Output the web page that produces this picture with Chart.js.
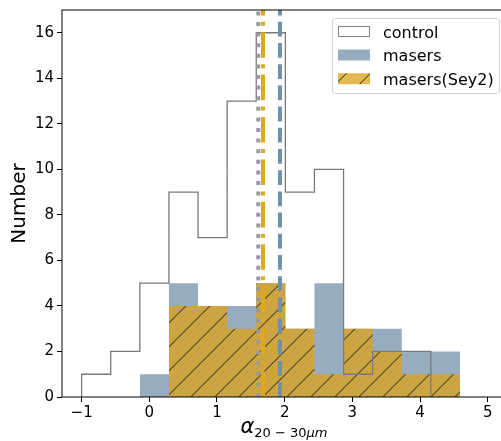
<!DOCTYPE html>
<html>
<head>
<meta charset="utf-8">
<script src="https://cdn.jsdelivr.net/npm/chart.js@4.4.0/dist/chart.umd.min.js"></script>
<style>
    html, body { margin: 0; padding: 0; overflow: hidden; background: #fff; }
    #wrap { width: 510px; height: 441px; }
</style>
</head>
<body>
<div id="wrap"><canvas id="histChart" width="510" height="441"></canvas></div>
<script>
// bin edges shared by the three histograms
const binEdges = [-1.0, -0.57, -0.14, 0.29, 0.72, 1.15, 1.58, 2.01, 2.44, 2.87, 3.30, 3.73, 4.16, 4.59];
const controlCounts = [1, 2, 5, 9, 7, 13, 16, 9, 10, 1, 2, 2, 0];
const maserCounts = [0, 0, 1, 5, 4, 4, 5, 3, 5, 3, 3, 2, 2];
const sey2Counts = [0, 0, 0, 4, 4, 3, 5, 3, 1, 3, 2, 1, 1];

// vertical marker lines
const controlMedian = 1.61;
const sey2Median = 1.68;
const maserMedian = 1.93;

const xTicks = [-1, 0, 1, 2, 3, 4, 5];
const yTicks = [0, 2, 4, 6, 8, 10, 12, 14, 16];
const legendNames = ['control', 'masers', 'masers(Sey2)'];

const FONT = '"DejaVu Sans", "Liberation Sans", sans-serif';
const BLUE = '#98acc0';
const GOLD = '#cca442';
const GOLD_LIGHT = '#e4b84e';

function stepPoints(counts) {
    const first = counts.findIndex(c => c > 0);
    let last = counts.length - 1;
    while (counts[last] === 0) last--;
    const pts = [{ x: binEdges[first], y: 0 }];
    for (let i = first; i <= last; i++) {
        pts.push({ x: binEdges[i], y: counts[i] });
    }
    pts.push({ x: binEdges[last + 1], y: counts[last] });
    pts.push({ x: binEdges[last + 1], y: 0 });
    return pts;
}

function makeHatch(bg) {
    const size = 24;
    const c = document.createElement('canvas');
    c.width = size;
    c.height = size;
    const g = c.getContext('2d');
    g.fillStyle = bg;
    g.fillRect(0, 0, size, size);
    g.strokeStyle = '#1e1e1e';
    g.lineWidth = 1;
    g.beginPath();
    [-size, 0, size].forEach(k => {
        g.moveTo(k, size);
        g.lineTo(k + size, 0);
    });
    g.stroke();
    const p = g.createPattern(c, 'repeat');
    p.setTransform(new DOMMatrix().translate(11.7, 0));
    return p;
}

function vLine(x, color, dash) {
    return {
        data: [{ x: x, y: 0 }, { x: x, y: 17 }],
        showLine: true,
        borderColor: color,
        borderWidth: 4,
        borderDash: dash,
        pointRadius: 0,
        fill: false
    };
}

function fmtTick(v) {
    return v < 0 ? '\u2212' + Math.abs(v) : String(v);
}

function drawXLabel(ctx, centerX, baseY) {
    const parts = [
        { t: '\u03b1', f: 'italic 21px ' + FONT, dy: 0 },
        { t: '20 \u2212 30', f: '13px ' + FONT, dy: 4 },
        { t: '\u03bcm', f: 'italic 13px ' + FONT, dy: 4 }
    ];
    let total = 0;
    parts.forEach(p => {
        ctx.font = p.f;
        p.w = ctx.measureText(p.t).width;
        total += p.w;
    });
    let x = centerX - total / 2;
    ctx.fillStyle = '#000';
    ctx.textAlign = 'left';
    ctx.textBaseline = 'alphabetic';
    parts.forEach(p => {
        ctx.font = p.f;
        ctx.fillText(p.t, x, baseY + p.dy);
        x += p.w;
    });
}

function drawLegend(ctx, legendHatch) {
    const box = { x: 332, y: 18, w: 167, h: 75 };
    ctx.save();
    ctx.beginPath();
    ctx.roundRect(box.x + 0.5, box.y + 0.5, box.w, box.h, 3);
    ctx.fillStyle = 'rgba(255,255,255,0.85)';
    ctx.fill();
    ctx.strokeStyle = '#d0d0d0';
    ctx.lineWidth = 1;
    ctx.stroke();

    const rows = [37.5, 61, 84.7];
    const fills = ['#ffffff', BLUE, legendHatch];
    rows.forEach((base, i) => {
        const top = base - 11.5;
        ctx.fillStyle = fills[i];
        ctx.fillRect(338, top, 32, 11);
        if (i === 0) {
            ctx.strokeStyle = '#808080';
            ctx.strokeRect(338.5, top + 0.5, 31, 10);
        }
        ctx.fillStyle = '#000';
        ctx.font = '16px ' + FONT;
        ctx.textAlign = 'left';
        ctx.textBaseline = 'alphabetic';
        ctx.fillText(legendNames[i], 383, base);
    });
    ctx.restore();
}

const plotHatch = makeHatch(GOLD);
const legendHatch = makeHatch(GOLD_LIGHT);

const extrasPlugin = {
    id: 'extras',
    afterDatasetsDraw(chart) {
        const { ctx, chartArea: a } = chart;
        ctx.save();
        ctx.strokeStyle = '#000';
        ctx.lineWidth = 1;
        ctx.strokeRect(a.left, a.top, a.right - a.left, a.bottom - a.top);
        ctx.restore();
    },
    afterDraw(chart) {
        const ctx = chart.ctx;
        drawLegend(ctx, legendHatch);
        ctx.save();
        drawXLabel(ctx, 284, 433);
        ctx.restore();
    }
};

new Chart(document.getElementById('histChart'), {
    type: 'scatter',
    data: {
        datasets: [
            vLine(controlMedian, '#999999', [4, 6.6]),
            vLine(sey2Median, '#dfa81f', [25.6, 6.4, 4, 6.4]),
            vLine(maserMedian, '#6f8fab', [14.8, 6.4]),
            {
                label: legendNames[0],
                data: stepPoints(controlCounts),
                showLine: true,
                stepped: true,
                borderColor: '#7a7a7a',
                borderWidth: 1.3,
                pointRadius: 0,
                fill: false
            },
            {
                label: legendNames[2],
                data: stepPoints(sey2Counts),
                showLine: true,
                stepped: true,
                borderColor: 'rgba(0,0,0,0)',
                borderWidth: 0,
                backgroundColor: plotHatch,
                pointRadius: 0,
                fill: 'origin'
            },
            {
                label: legendNames[1],
                data: stepPoints(maserCounts),
                showLine: true,
                stepped: true,
                borderColor: 'rgba(0,0,0,0)',
                borderWidth: 0,
                backgroundColor: BLUE,
                pointRadius: 0,
                fill: 'origin'
            }
        ]
    },
    options: {
        responsive: false,
        animation: false,
        devicePixelRatio: 1,
        events: [],
        layout: { padding: { top: 10, right: 4, left: 0, bottom: 0 } },
        plugins: {
            legend: { display: false },
            tooltip: { enabled: false }
        },
        scales: {
            x: {
                type: 'linear',
                min: -1.29,
                max: 5.27,
                afterBuildTicks: s => { s.ticks = xTicks.map(v => ({ value: v })); },
                afterFit: s => { s.height = 44; s.paddingLeft = 0; s.paddingRight = 0; },
                grid: { display: true, drawOnChartArea: false, tickLength: 5, color: '#000' },
                border: { display: false },
                ticks: {
                    color: '#000',
                    padding: 2,
                    maxRotation: 0,
                    font: { family: FONT, size: 15 },
                    callback: v => fmtTick(v)
                }
            },
            y: {
                type: 'linear',
                min: 0,
                max: 17,
                afterBuildTicks: s => { s.ticks = yTicks.map(v => ({ value: v })); },
                afterFit: s => { s.width = 62; s.paddingTop = 0; s.paddingBottom = 0; },
                grid: { display: true, drawOnChartArea: false, tickLength: 5, color: '#000' },
                border: { display: false },
                ticks: {
                    color: '#000',
                    padding: 3,
                    font: { family: FONT, size: 15 },
                    callback: v => fmtTick(v)
                },
                title: {
                    display: true,
                    text: 'Number',
                    color: '#000',
                    font: { family: FONT, size: 20 },
                    padding: { top: 8, bottom: 0 }
                }
            }
        }
    },
    plugins: [extrasPlugin]
});
</script>
</body>
</html>
